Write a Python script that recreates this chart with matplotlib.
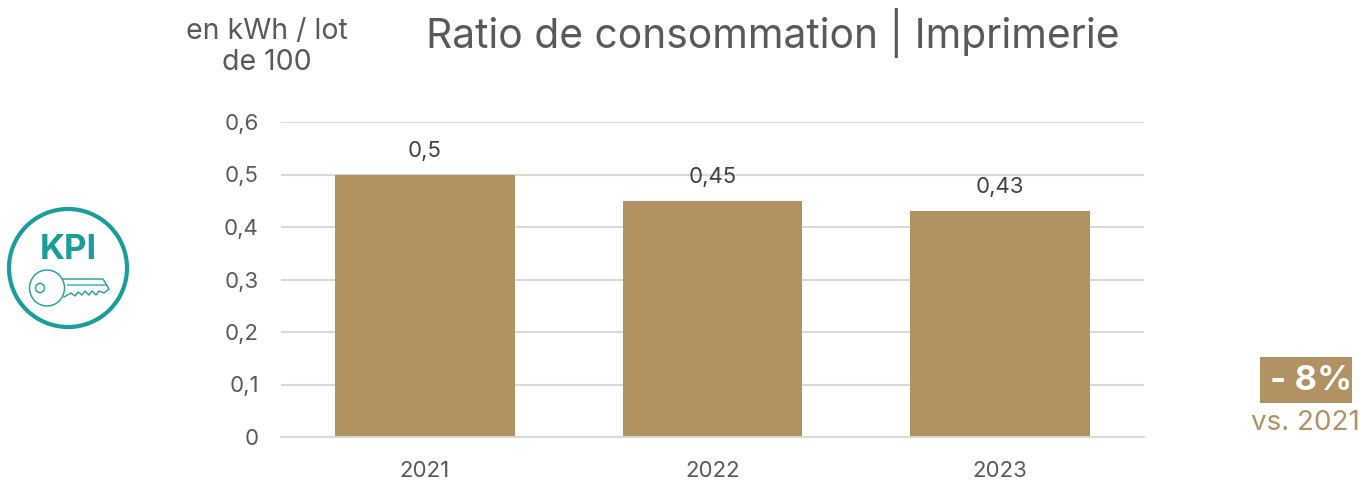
import matplotlib
matplotlib.use("Agg")
import matplotlib.pyplot as plt
from matplotlib.patches import Circle, Ellipse, Rectangle

plt.rcParams['font.family'] = ['Inter', 'DejaVu Sans']

years = ['2021', '2022', '2023']
ratio = [0.5, 0.45, 0.43]
ratio_labels = ['0,5', '0,45', '0,43']
y_ticks = [0, 0.1, 0.2, 0.3, 0.4, 0.5, 0.6]
y_tick_labels = ['0', '0,1', '0,2', '0,3', '0,4', '0,5', '0,6']

GOLD = '#B29263'
TEAL = '#1A9E9B'
GREY = '#595959'
W, H = 1360, 480

fig = plt.figure(figsize=(W / 100, H / 100), dpi=100)
ax = fig.add_axes([281 / W, 1 - 437 / H, 863 / W, 315 / H])
ax.set_axisbelow(True)
ax.bar(years, ratio, width=0.625, color=GOLD)
ax.set_xlim(-0.5, 2.5)
ax.set_ylim(0, 0.6)
ax.set_yticks(y_ticks)
ax.set_yticklabels(y_tick_labels, fontsize=16, color=GREY)
ax.tick_params(axis='both', length=0)
ax.tick_params(axis='y', pad=16)
ax.tick_params(axis='x', labelsize=16, labelcolor=GREY, pad=17.5)
ax.grid(axis='y', color='#D9D9D9', linewidth=1.5)
for s in ['top', 'right', 'left']:
    ax.spines[s].set_visible(False)
ax.spines['bottom'].set_color('#D9D9D9')
ax.spines['bottom'].set_linewidth(1.5)
for i, v in enumerate(ratio):
    ax.annotate(ratio_labels[i], (i, v), xytext=(0, 10), textcoords='offset points',
                ha='center', va='bottom', fontsize=16, color='#404040')

# overlay in pixel coordinates for title, notes and the icon
ov = fig.add_axes([0, 0, 1, 1])
ov.set_xlim(0, W)
ov.set_ylim(H, 0)
ov.axis('off')
ov.patch.set_alpha(0)

ov.text(773, 33, 'Ratio de consommation | Imprimerie', ha='center', va='center', fontsize=29.3, color=GREY)
ov.text(267, 31, 'en kWh / lot', ha='center', va='center', fontsize=20.5, color=GREY)
ov.text(267, 63, 'de 100', ha='center', va='center', fontsize=20.5, color=GREY)

ov.add_patch(Rectangle((1260, 357), 92, 46, color=GOLD, linewidth=0))
ov.text(1311, 381, '- 8%', ha='center', va='center', fontsize=25, fontweight='bold', color='white')
ov.text(1305, 423, 'vs. 2021', ha='center', va='center', fontsize=20, color=GOLD)

ov.add_patch(Circle((68, 268), 59, fill=False, edgecolor=TEAL, linewidth=3))
ov.text(68, 250, 'KPI', ha='center', va='center', fontsize=25, fontweight='bold', color=TEAL)
ov.add_patch(Ellipse((47, 288), 35, 36, fill=False, edgecolor=TEAL, linewidth=1))
ov.add_patch(Ellipse((40, 288), 9, 9, fill=False, edgecolor=TEAL, linewidth=1))
key_x = [63, 103, 109, 104, 99, 96, 92, 89, 85, 82, 78, 75, 71, 64]
key_y = [279, 279, 289, 293, 291, 295, 291, 295, 291, 295, 292, 296, 293, 297]
ov.plot(key_x, key_y, color=TEAL, linewidth=1)
ov.plot([68, 106], [285, 285], color=TEAL, linewidth=1.5, alpha=0.6)

fig.savefig('out.png', dpi=100)
plt.close()
